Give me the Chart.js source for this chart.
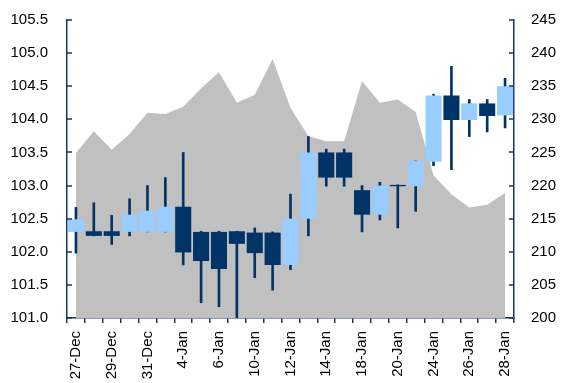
<!DOCTYPE html>
<html>
<head>
<meta charset="utf-8">
<script src="https://cdn.jsdelivr.net/npm/chart.js@4.4.0/dist/chart.umd.min.js"></script>
<style>
  html, body { margin: 0; padding: 0; background: #ffffff; }
  #wrap { width: 561px; height: 383px; }
</style>
</head>
<body>
<div id="wrap"><canvas id="c" width="561" height="383"></canvas></div>
<script>
// Trading days
const dates = ['27-Dec','28-Dec','29-Dec','30-Dec','31-Dec','3-Jan','4-Jan','5-Jan','6-Jan','7-Jan',
  '10-Jan','11-Jan','12-Jan','13-Jan','14-Jan','17-Jan','18-Jan','19-Jan','20-Jan','21-Jan',
  '24-Jan','25-Jan','26-Jan','27-Jan','28-Jan'];

// Daily price candles (left axis)
const openP  = [102.30,102.31,102.31,102.30,102.30,102.30,102.68,102.30,102.30,102.31,
  102.29,102.29,101.80,102.50,103.50,103.50,102.93,102.56,103.01,102.99,
  103.36,104.36,103.99,104.24,104.06];
const closeP = [102.49,102.24,102.24,102.56,102.62,102.68,101.99,101.86,101.74,102.12,
  101.98,101.80,102.50,103.50,103.12,103.12,102.56,103.00,102.99,103.37,
  104.36,103.99,104.24,104.05,104.50];
const highP  = [102.67,102.74,102.55,102.80,103.00,103.12,103.50,102.31,102.31,102.31,
  102.36,102.30,102.87,103.74,103.55,103.55,103.00,103.05,103.01,103.37,
  104.38,104.80,104.30,104.30,104.62];
const lowP   = [101.98,102.24,102.11,102.24,102.30,102.30,101.80,101.23,101.17,101.00,
  101.61,101.42,101.73,102.24,102.99,102.99,102.30,102.48,102.36,102.61,
  103.30,103.24,103.74,103.81,103.87];

// Comparison series (right axis, shaded area)
const rightSeries = [224.9,228.2,225.4,227.8,231.0,230.8,231.9,234.7,237.1,232.5,
  233.7,239.1,231.7,227.5,226.7,226.7,235.8,232.5,233.0,231.1,
  221.5,218.7,216.7,217.1,218.9];

const AXIS = '#17375e';
const UP = '#99ccff';
const DOWN = '#003366';
const AREA = '#c0c0c0';
const FONT = { family: '"Liberation Sans", Arial, sans-serif', size: 15 };

const bodies = dates.map((d, i) => [openP[i], closeP[i]]);
const wicks = dates.map((d, i) => [lowP[i], highP[i]]);
const bodyColors = dates.map((d, i) => closeP[i] >= openP[i] ? UP : DOWN);

// Short tick marks pointing into the plot on both value axes
const innerTicks = {
  id: 'innerTicks',
  afterDraw(chart) {
    const ctx = chart.ctx;
    ctx.save();
    ctx.strokeStyle = AXIS;
    ctx.lineWidth = 1.5;
    [['y', 1], ['y1', -1]].forEach(([id, dir]) => {
      const s = chart.scales[id];
      const x0 = id === 'y' ? s.right : s.left;
      s.ticks.forEach((t, i) => {
        const y = Math.round(s.getPixelForTick(i));
        ctx.beginPath();
        ctx.moveTo(x0, y);
        ctx.lineTo(x0 + dir * 5, y);
        ctx.stroke();
      });
    });
    ctx.restore();
  }
};

new Chart(document.getElementById('c'), {
  data: {
    labels: dates,
    datasets: [
      {
        type: 'bar',
        data: bodies,
        yAxisID: 'y',
        backgroundColor: bodyColors,
        borderWidth: 0,
        barPercentage: 0.9,
        categoryPercentage: 1.0,
        grouped: false,
        order: 1
      },
      {
        type: 'bar',
        data: wicks,
        yAxisID: 'y',
        backgroundColor: DOWN,
        borderWidth: 0,
        barThickness: 2,
        grouped: false,
        order: 2
      },
      {
        type: 'line',
        data: rightSeries,
        yAxisID: 'y1',
        fill: 'start',
        backgroundColor: AREA,
        borderWidth: 0,
        borderColor: AREA,
        pointRadius: 0,
        tension: 0,
        order: 3
      }
    ]
  },
  options: {
    responsive: false,
    devicePixelRatio: 1,
    animation: false,
    events: [],
    layout: { padding: { top: 15, right: 0, bottom: 0, left: 0 } },
    plugins: { legend: { display: false }, tooltip: { enabled: false } },
    scales: {
      x: {
        type: 'category',
        offset: true,
        grid: { display: true, drawOnChartArea: false, drawTicks: true, tickLength: 5, color: AXIS, lineWidth: 1.5, offset: true },
        border: { display: true, color: AXIS, width: 1.5 },
        ticks: {
          autoSkip: false, maxRotation: 90, minRotation: 90, padding: 8,
          color: '#000', font: FONT,
          callback: (v, i) => (i % 2 === 0 ? dates[i] : '')
        },
        afterFit: s => { s.height = 65; }
      },
      y: {
        position: 'left',
        min: 101, max: 105.5,
        grid: { display: false },
        border: { display: true, color: AXIS, width: 1.5 },
        ticks: { stepSize: 0.5, padding: 11, color: '#000', font: FONT, callback: v => v.toFixed(1) },
        afterFit: s => { s.width = 67; }
      },
      y1: {
        position: 'right',
        min: 200, max: 245,
        grid: { display: false },
        border: { display: true, color: AXIS, width: 1.5 },
        ticks: { stepSize: 5, padding: 9, color: '#000', font: FONT },
        afterFit: s => { s.width = 47; }
      }
    }
  },
  plugins: [innerTicks]
});
</script>
</body>
</html>
